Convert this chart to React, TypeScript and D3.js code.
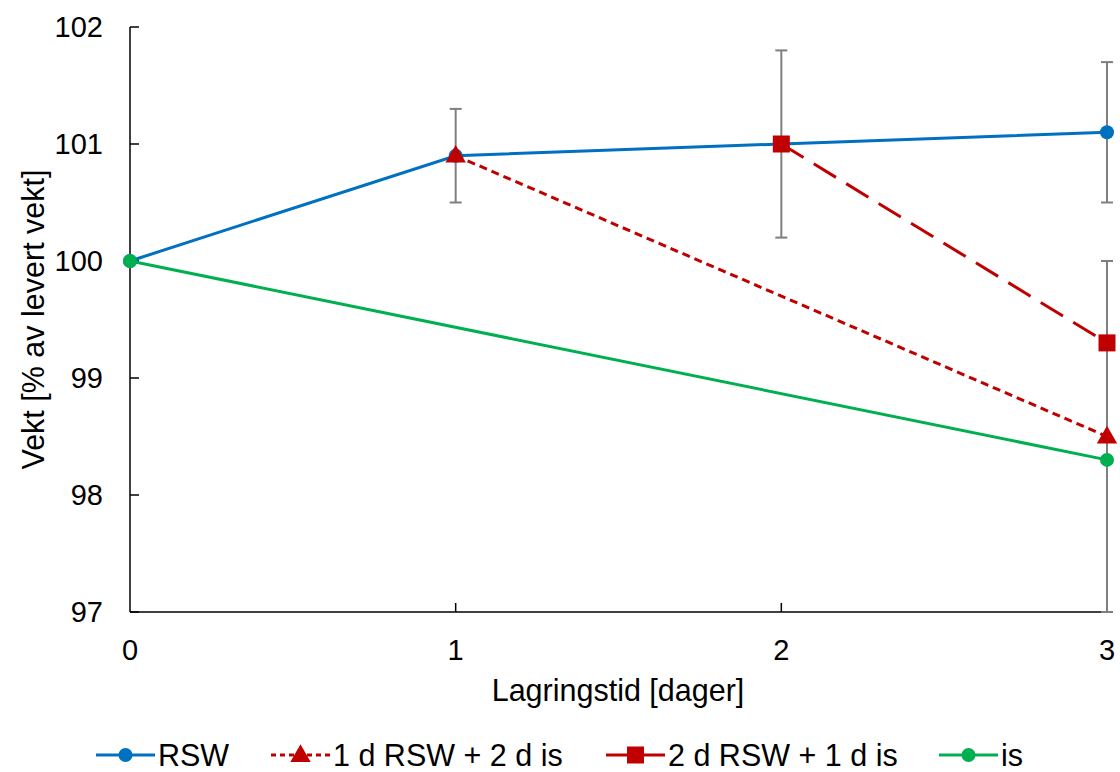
import React from 'react';
import * as d3 from 'd3';

const days = [0, 1, 2, 3];
const rsw = [100, 100.9, 101.0, 101.1];
const rswErr = [0, 0.4, 0.8, 0.6];
const rsw1is2 = [null, 100.9, null, 98.5];
const rsw1is2Err = [0, 0, 0, 1.5];
const rsw2is1 = [null, null, 101.0, 99.3];
const rsw2is1Err = [0, 0, 0, 0];
const isOnly = [100, null, null, 98.3];
const yTicks = [97, 98, 99, 100, 101, 102];

const W = 1120;
const H = 772;

type Series = {
  name: string;
  values: (number | null)[];
  errors: number[];
  color: string;
  dash: string | null;
  legendDash: string | null;
  marker: 'circle' | 'triangle' | 'square';
};

const series: Series[] = [
  { name: 'RSW', values: rsw, errors: rswErr, color: '#0070C0', dash: null, legendDash: null, marker: 'circle' },
  { name: '1 d RSW + 2 d is', values: rsw1is2, errors: rsw1is2Err, color: '#C00000', dash: '8,5', legendDash: '5,4', marker: 'triangle' },
  { name: '2 d RSW + 1 d is', values: rsw2is1, errors: rsw2is1Err, color: '#C00000', dash: '26,12', legendDash: null, marker: 'square' },
  { name: 'is', values: isOnly, errors: [0, 0, 0, 0], color: '#00B050', dash: null, legendDash: null, marker: 'circle' },
];

const font = '"Liberation Sans", Arial, sans-serif';

function Marker({ type, x, y, color }: { type: string; x: number; y: number; color: string }) {
  if (type === 'circle') return <circle cx={x} cy={y} r={7} fill={color} />;
  if (type === 'square') return <rect x={x - 8.5} y={y - 8.5} width={17} height={17} fill={color} />;
  const tri = d3.symbol().type(d3.symbolTriangle).size(180)();
  return <path d={tri || ''} transform={`translate(${x},${y + 1})`} fill={color} />;
}

export default function App() {
  const x = d3.scaleLinear().domain([0, 3]).range([130, 1107]);
  const y = d3.scaleLinear().domain([97, 102]).range([612, 27]);

  const line = d3
    .line<[number, number | null]>()
    .defined((d) => d[1] !== null)
    .x((d) => x(d[0]))
    .y((d) => y(d[1] as number));

  const legendX = [96, 271, 606, 939];

  return (
    <svg width={W} height={H} style={{ position: 'absolute', left: 0, top: 0, fontFamily: font }}>
      <rect width={W} height={H} fill="#fff" />
      {/* axes */}
      <line x1={x(0)} x2={x(0)} y1={y(102)} y2={y(97)} stroke="#000" strokeWidth={1.5} />
      <line x1={x(0)} x2={x(3)} y1={y(97)} y2={y(97)} stroke="#000" strokeWidth={1.5} />
      {yTicks.map((t) => (
        <g key={t}>
          <line x1={x(0)} x2={x(0) + 9} y1={y(t)} y2={y(t)} stroke="#000" strokeWidth={1.5} />
          <text x={103} y={y(t)} dy="0.35em" textAnchor="end" fontSize={29} fill="#000">
            {t}
          </text>
        </g>
      ))}
      {days.map((d) => (
        <g key={d}>
          {d > 0 && <line x1={x(d)} x2={x(d)} y1={y(97)} y2={y(97) - 9} stroke="#000" strokeWidth={1.5} />}
          <text x={x(d)} y={650} dy="0.35em" textAnchor="middle" fontSize={29} fill="#000">
            {d}
          </text>
        </g>
      ))}
      <text x={618} y={690} dy="0.35em" textAnchor="middle" fontSize={30.5} fill="#000">
        Lagringstid [dager]
      </text>
      <text transform={`translate(33,${y(99.5)}) rotate(-90)`} dy="0.35em" textAnchor="middle" fontSize={30.5} fill="#000">
        Vekt [% av levert vekt]
      </text>

      {/* error bars */}
      {series.map((s) =>
        s.values.map((v, i) => {
          const e = s.errors[i];
          if (v === null || !e) return null;
          const top = Math.min(v + e, 102);
          const bot = Math.max(v - e, 97);
          return (
            <g key={s.name + i} stroke="#7F7F7F" strokeWidth={2}>
              <line x1={x(i)} x2={x(i)} y1={y(top)} y2={y(bot)} />
              <line x1={x(i) - 6} x2={x(i) + 6} y1={y(top)} y2={y(top)} />
              <line x1={x(i) - 6} x2={x(i) + 6} y1={y(bot)} y2={y(bot)} />
            </g>
          );
        })
      )}

      {/* lines */}
      {series.map((s) => {
        const pts = days.map((d, i) => [d, s.values[i]] as [number, number | null]).filter((p) => p[1] !== null);
        return (
          <path
            key={s.name}
            d={line(pts) || ''}
            fill="none"
            stroke={s.color}
            strokeWidth={3}
            strokeDasharray={s.dash || undefined}
          />
        );
      })}
      {series.map((s) =>
        s.values.map((v, i) =>
          v === null ? null : <Marker key={s.name + 'm' + i} type={s.marker} x={x(i)} y={y(v)} color={s.color} />
        )
      )}

      {/* legend */}
      {series.map((s, i) => (
        <g key={s.name + 'leg'}>
          <line
            x1={legendX[i]}
            x2={legendX[i] + 59}
            y1={755}
            y2={755}
            stroke={s.color}
            strokeWidth={3}
            strokeDasharray={s.legendDash || undefined}
          />
          <Marker type={s.marker} x={legendX[i] + 29.5} y={755} color={s.color} />
          <text x={legendX[i] + 62} y={755} dy="0.35em" fontSize={30.5} fill="#000">
            {s.name}
          </text>
        </g>
      ))}
    </svg>
  );
}
